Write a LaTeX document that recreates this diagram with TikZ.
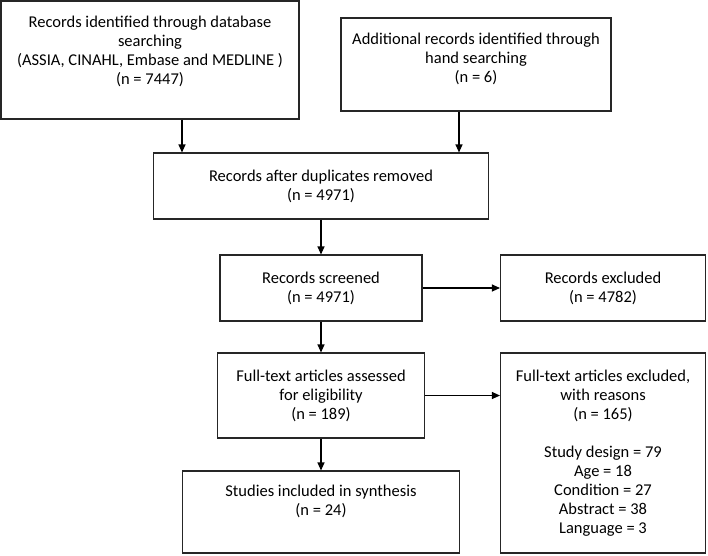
\documentclass[tikz,border=0pt]{standalone}
\usepackage{fontspec}
\setmainfont{Carlito}
\usepackage{tikz}
\usetikzlibrary{arrows.meta,positioning,calc}
\newcommand{\boxfont}{\fontsize{16.5}{19}\selectfont}

\begin{document}
\begin{tikzpicture}[->, >={Triangle[length=8pt,width=7pt]}, line width=1.1pt, x=1pt, y=1pt, node distance=102pt]
\tikzstyle{box}=[draw=black!85,fill=white,align=center,inner sep=0pt,font=\boxfont]
\useasboundingbox (0,0) rectangle (708,-555);
\node[box,minimum width=298pt,minimum height=118pt,text depth=20pt] (db) at (150,-60)
  {Records identified through database\\searching\\(ASSIA, CINAHL, Embase and MEDLINE )\\(n = 7447)};
\node[box,minimum width=270pt,minimum height=93pt,text depth=13pt]  (hand) at (476,-64.5)
  {Additional records identified through\\hand searching\\(n = 6)};
\node[box,minimum width=335pt,minimum height=66pt] (dup) at (321,-186)
  {Records after duplicates removed\\(n = 4971)};
\node[box,minimum width=202pt,minimum height=66pt] (scr)[below of=dup]
  {Records screened\\(n = 4971)};
\node[box,minimum width=205pt,minimum height=66pt] (excl)[right of=scr, node distance=282pt]
  {Records excluded\\(n = 4782)};
\node[box,minimum width=207pt,minimum height=85pt] (full)[below of=scr, node distance=107.5pt]
  {Full-text articles assessed\\for eligibility\\(n = 189)};
\node[box,minimum width=205pt,minimum height=200pt] (fexcl)[below of=excl, node distance=165pt]
  {Full-text articles excluded,\\with reasons\\(n = 165)\\[19pt]Study design = 79\\Age = 18\\Condition = 27\\Abstract = 38\\Language = 3};
\node[box,minimum width=277pt,minimum height=82pt,text depth=24pt] (incl)[below of=full, node distance=116.5pt]
  {Studies included in synthesis\\(n = 24)};
\draw ([xshift=32pt]db.south) -- ([xshift=32pt]db.south |- dup.north);
\draw ([xshift=-17pt]hand.south) -- ([xshift=-17pt]hand.south |- dup.north);
\draw (dup) -- (scr);
\draw (scr) -- (excl);
\draw (scr) -- (full);
\draw (full) -- (incl);
\draw (full.east) -- (full.east -| fexcl.west);
\end{tikzpicture}
\end{document}
